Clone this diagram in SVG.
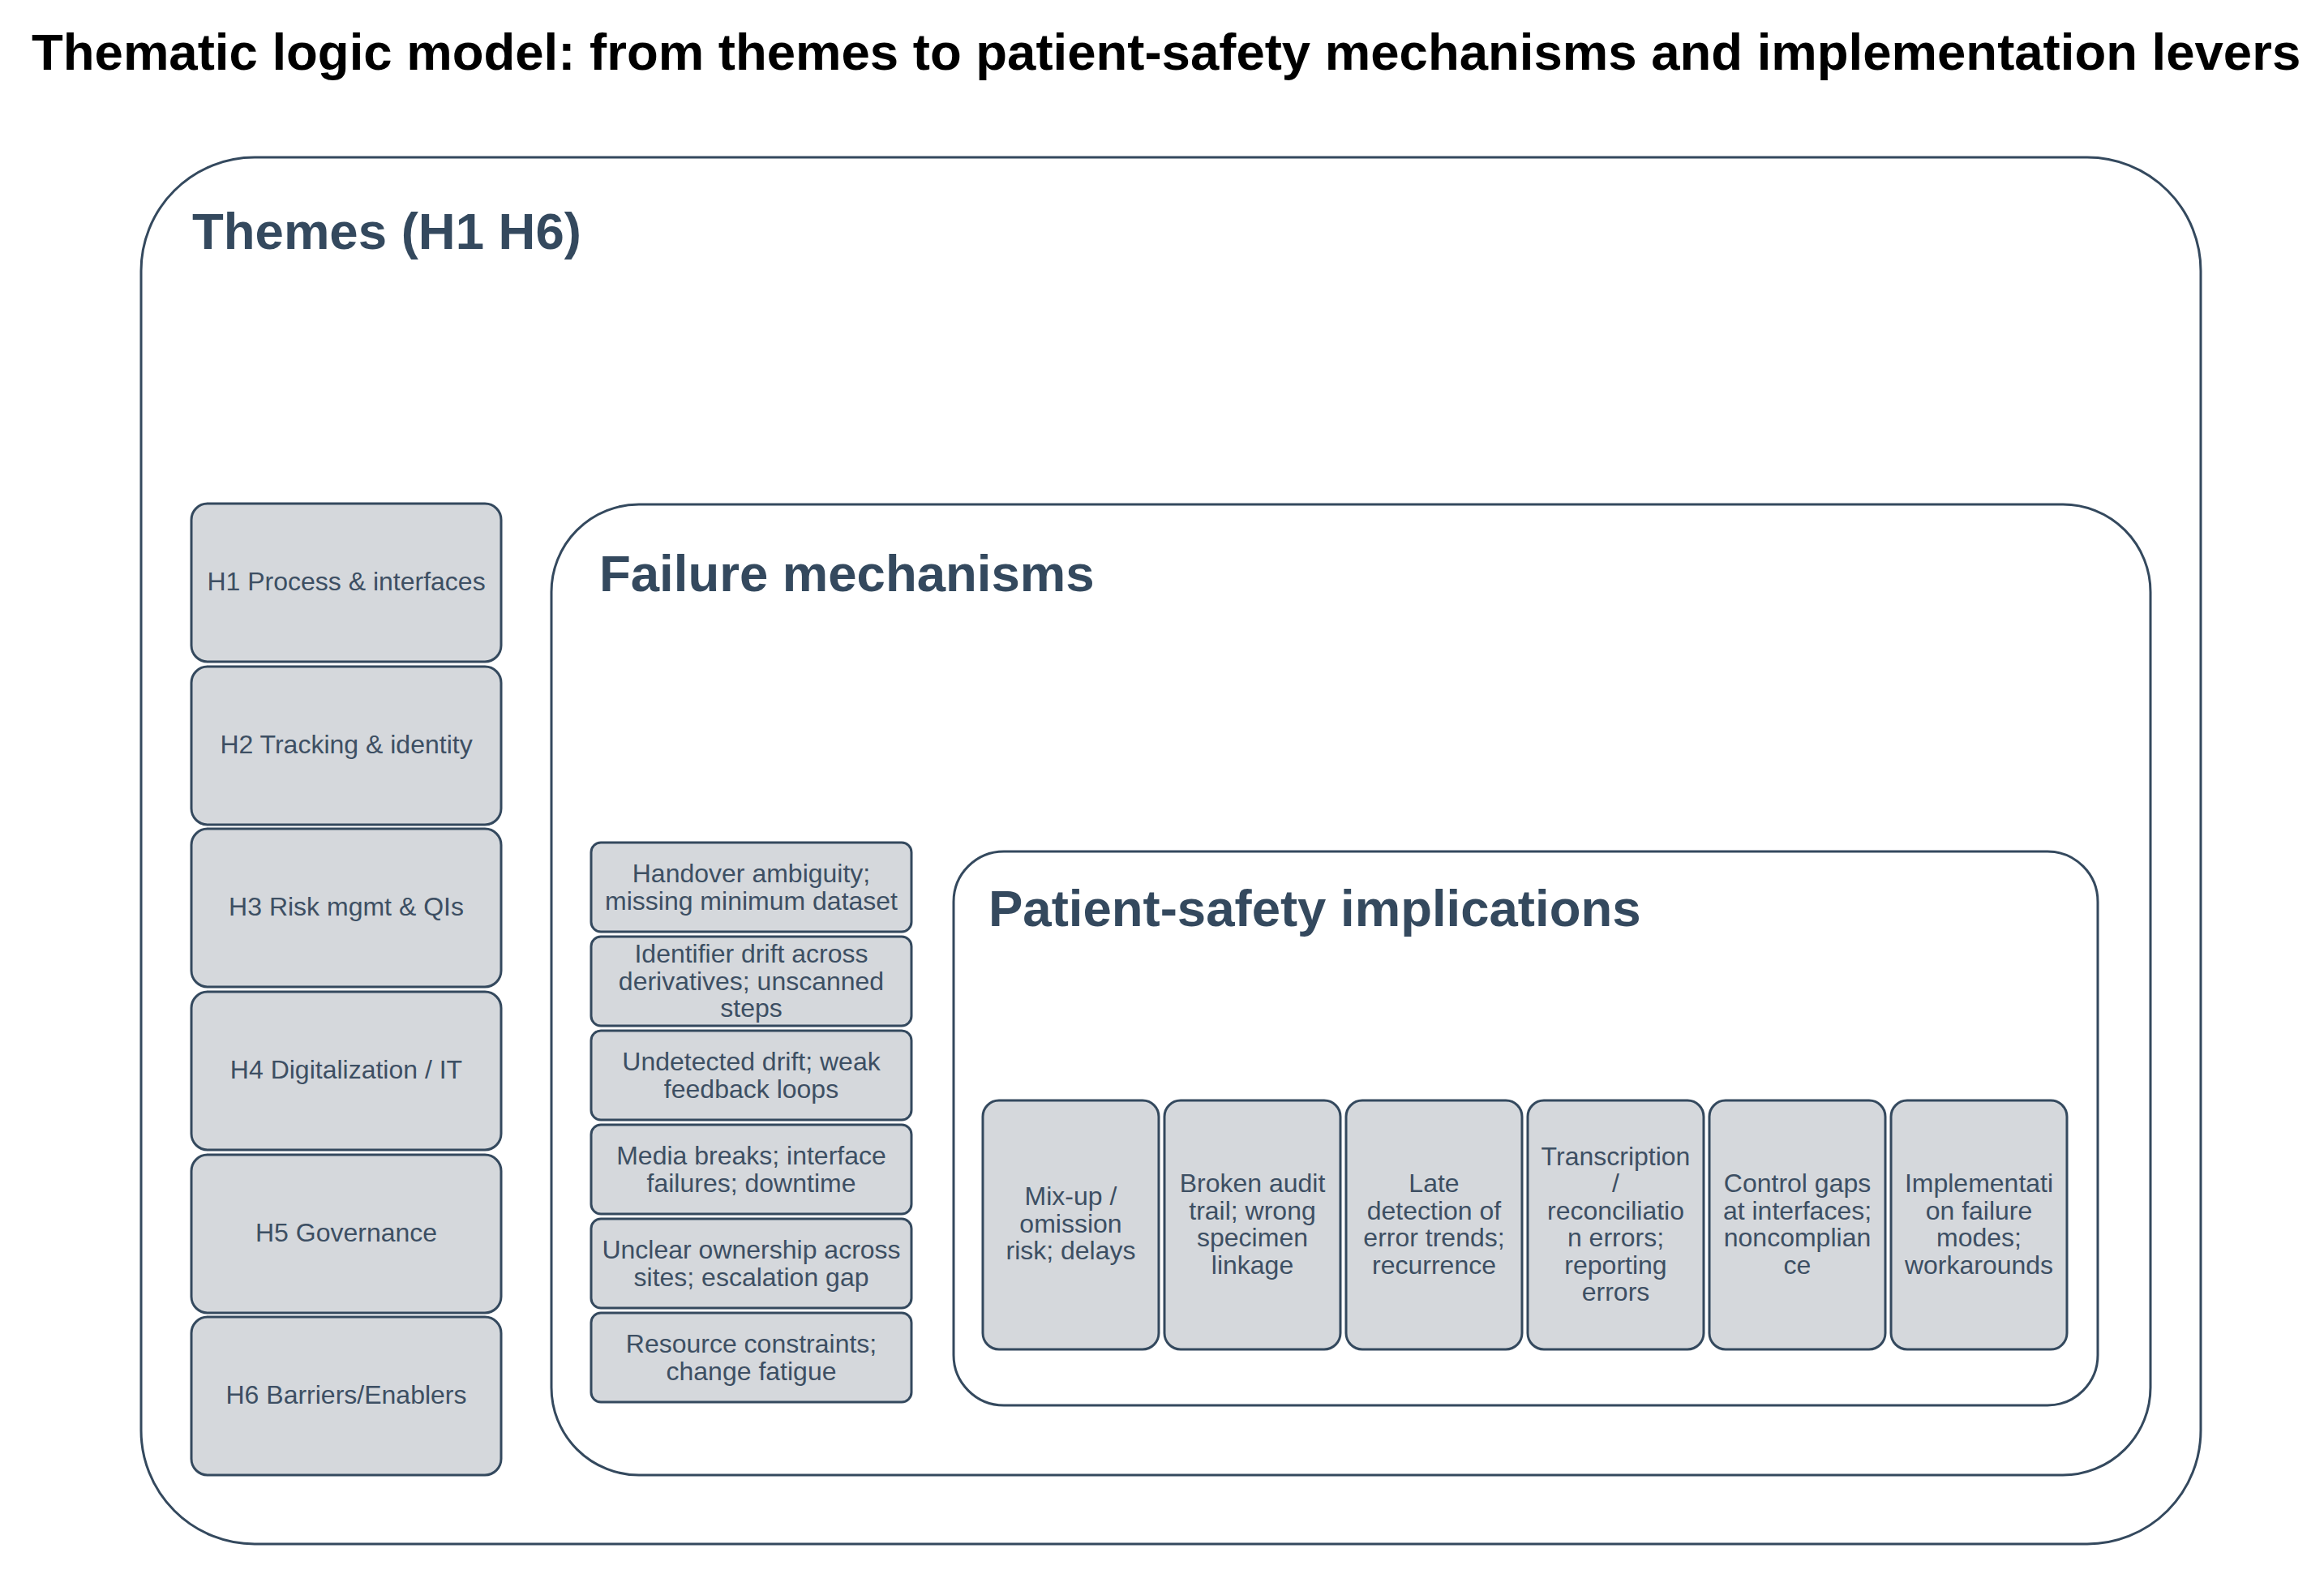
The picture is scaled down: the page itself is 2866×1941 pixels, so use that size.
<svg xmlns="http://www.w3.org/2000/svg" width="2866" height="1941" viewBox="0 0 2866 1941">
<style>
.title{font-family:"Liberation Sans",Arial,sans-serif;font-weight:bold;font-size:63.5px;fill:#000000}
.cont{fill:#ffffff;stroke:#34495e;stroke-width:3}
.head{font-family:"Liberation Sans",Arial,sans-serif;font-weight:bold;font-size:63.5px;fill:#34495e}
.box{fill:#d5d8dc;stroke:#34495e;stroke-width:3}
.lbl{font-family:"Liberation Sans",Arial,sans-serif;font-size:32px;fill:#3d4f63;text-anchor:middle}
</style>
<rect x="0" y="0" width="2866" height="1941" fill="#ffffff"/>
<text class="title" x="39" y="86">Thematic logic model: from themes to patient-safety mechanisms and implementation levers</text>

<g id="themes">
<rect class="cont" x="174" y="194" width="2540" height="1710" rx="140" ry="140"/>
<text class="head" x="237" y="307">Themes (H1 H6)</text>
</g>

<g id="h1"><rect class="box" x="236" y="621" width="382" height="195" rx="20"/><text class="lbl" x="427" y="728">H1 Process &amp; interfaces</text></g>
<g id="h2"><rect class="box" x="236" y="822" width="382" height="195" rx="20"/><text class="lbl" x="427" y="929">H2 Tracking &amp; identity</text></g>
<g id="h3"><rect class="box" x="236" y="1022" width="382" height="195" rx="20"/><text class="lbl" x="427" y="1129">H3 Risk mgmt &amp; QIs</text></g>
<g id="h4"><rect class="box" x="236" y="1223" width="382" height="195" rx="20"/><text class="lbl" x="427" y="1330">H4 Digitalization / IT</text></g>
<g id="h5"><rect class="box" x="236" y="1424" width="382" height="195" rx="20"/><text class="lbl" x="427" y="1531">H5 Governance</text></g>
<g id="h6"><rect class="box" x="236" y="1624" width="382" height="195" rx="20"/><text class="lbl" x="427" y="1731">H6 Barriers/Enablers</text></g>

<g id="failure-mechanisms">
<rect class="cont" x="680" y="622" width="1972" height="1197" rx="108" ry="108"/>
<text class="head" x="739" y="729">Failure mechanisms</text>
</g>

<g id="fm1"><rect class="box" x="729" y="1039" width="395" height="110" rx="12"/><text class="lbl" x="926.5" y="1088">Handover ambiguity;</text><text class="lbl" x="926.5" y="1121.5">missing minimum dataset</text></g>
<g id="fm2"><rect class="box" x="729" y="1155" width="395" height="110" rx="12"/><text class="lbl" x="926.5" y="1187">Identifier drift across</text><text class="lbl" x="926.5" y="1220.5">derivatives; unscanned</text><text class="lbl" x="926.5" y="1254">steps</text></g>
<g id="fm3"><rect class="box" x="729" y="1271" width="395" height="110" rx="12"/><text class="lbl" x="926.5" y="1320">Undetected drift; weak</text><text class="lbl" x="926.5" y="1353.5">feedback loops</text></g>
<g id="fm4"><rect class="box" x="729" y="1387" width="395" height="110" rx="12"/><text class="lbl" x="926.5" y="1436">Media breaks; interface</text><text class="lbl" x="926.5" y="1469.5">failures; downtime</text></g>
<g id="fm5"><rect class="box" x="729" y="1503" width="395" height="110" rx="12"/><text class="lbl" x="926.5" y="1552">Unclear ownership across</text><text class="lbl" x="926.5" y="1585.5">sites; escalation gap</text></g>
<g id="fm6"><rect class="box" x="729" y="1619" width="395" height="110" rx="12"/><text class="lbl" x="926.5" y="1668">Resource constraints;</text><text class="lbl" x="926.5" y="1701.5">change fatigue</text></g>

<g id="patient-safety">
<rect class="cont" x="1176" y="1050" width="1411" height="683" rx="62" ry="62"/>
<text class="head" x="1219" y="1142">Patient-safety implications</text>
</g>

<g id="ps1"><rect class="box" x="1212" y="1357" width="217" height="307" rx="20"/>
<text class="lbl" x="1320.5" y="1486">Mix-up /</text><text class="lbl" x="1320.5" y="1519.5">omission</text><text class="lbl" x="1320.5" y="1553">risk; delays</text></g>
<g id="ps2"><rect class="box" x="1436" y="1357" width="217" height="307" rx="20"/>
<text class="lbl" x="1544.5" y="1470">Broken audit</text><text class="lbl" x="1544.5" y="1503.5">trail; wrong</text><text class="lbl" x="1544.5" y="1537">specimen</text><text class="lbl" x="1544.5" y="1570.5">linkage</text></g>
<g id="ps3"><rect class="box" x="1660" y="1357" width="217" height="307" rx="20"/>
<text class="lbl" x="1768.5" y="1470">Late</text><text class="lbl" x="1768.5" y="1503.5">detection of</text><text class="lbl" x="1768.5" y="1537">error trends;</text><text class="lbl" x="1768.5" y="1570.5">recurrence</text></g>
<g id="ps4"><rect class="box" x="1884" y="1357" width="217" height="307" rx="20"/>
<text class="lbl" x="1992.5" y="1436.5">Transcription</text><text class="lbl" x="1992.5" y="1470">/</text><text class="lbl" x="1992.5" y="1503.5">reconciliatio</text><text class="lbl" x="1992.5" y="1537">n errors;</text><text class="lbl" x="1992.5" y="1570.5">reporting</text><text class="lbl" x="1992.5" y="1604">errors</text></g>
<g id="ps5"><rect class="box" x="2108" y="1357" width="217" height="307" rx="20"/>
<text class="lbl" x="2216.5" y="1470">Control gaps</text><text class="lbl" x="2216.5" y="1503.5">at interfaces;</text><text class="lbl" x="2216.5" y="1537">noncomplian</text><text class="lbl" x="2216.5" y="1570.5">ce</text></g>
<g id="ps6"><rect class="box" x="2332" y="1357" width="217" height="307" rx="20"/>
<text class="lbl" x="2440.5" y="1470">Implementati</text><text class="lbl" x="2440.5" y="1503.5">on failure</text><text class="lbl" x="2440.5" y="1537">modes;</text><text class="lbl" x="2440.5" y="1570.5">workarounds</text></g>

<g id="connectors"></g>
</svg>
